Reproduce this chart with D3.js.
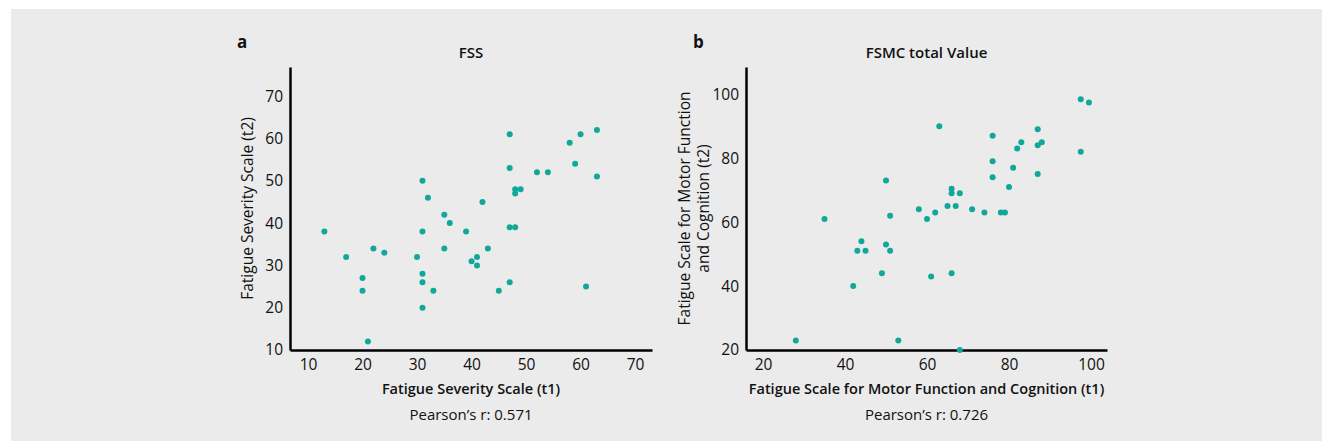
<!DOCTYPE html>
<html lang="en">
<head>
<meta charset="utf-8">
<title>FSS / FSMC t1 vs t2</title>
<script src="https://cdn.jsdelivr.net/npm/d3@7"></script>
<style>
body { margin: 0; background: #fff; }
text { font-family: "Open Sans", sans-serif; fill: #111; }
</style>
</head>
<body>
<script>
// panel a: Fatigue Severity Scale, t1 vs t2
var fssT1 = [13, 17, 20, 20, 21, 22, 24, 30, 31, 31, 31, 31, 31, 32, 33, 35, 35, 36, 39, 40, 41,
             41, 42, 43, 45, 47, 47, 47, 47, 48, 48, 48, 49, 52, 54, 58, 59, 60, 61, 63, 63];
var fssT2 = [38, 32, 27, 24, 12, 34, 33, 32, 50, 38, 28, 26, 20, 46, 24, 42, 34, 40, 38, 31, 32,
             30, 45, 34, 24, 61, 53, 39, 26, 48, 47, 39, 48, 52, 52, 59, 54, 61, 25, 62, 51];
var fssTicks = [10, 20, 30, 40, 50, 60, 70];

// panel b: FSMC total value, t1 vs t2
var fsmcT1 = [28, 35, 42, 43, 44, 45, 49, 50, 50, 51, 51, 53, 58, 60, 61, 62, 63, 65, 66, 66, 66,
              67, 68, 68, 71, 74, 76, 76, 76, 78, 79, 80, 81, 82, 83, 87, 87, 87, 88, 97.5, 97.5, 99.5];
var fsmcT2 = [23, 61, 40, 51, 54, 51, 44, 73, 53, 62, 51, 23, 64, 61, 43, 63, 90, 65, 70.4, 69, 44,
              65, 69, 20, 64, 63, 87, 79, 74, 63, 63, 71, 77, 83, 85, 89, 84, 75, 85, 98.4, 82, 97.4];
var fsmcTicks = [20, 40, 60, 80, 100];

var w = 1322, h = 441;
var dotColor = "#0fa89a";

var svg = d3.select("body").append("svg")
    .attr("width", w)
    .attr("height", h);

svg.append("rect")
    .attr("x", 11).attr("y", 9)
    .attr("width", w - 11).attr("height", h - 9)
    .attr("fill", "#ebebeb");

var panels = [
    {
        letter: "a", title: "FSS",
        xs: fssT1, ys: fssT2, ticks: fssTicks,
        xDomain: [6.7, 73.1], yDomain: [10, 76.9],
        left: 290, right: 652, top: 67, bottom: 350,
        xLabel: "Fatigue Severity Scale (t1)",
        yLabel: ["Fatigue Severity Scale (t2)"],
        pearson: "Pearson\u2019s r: 0.571"
    },
    {
        letter: "b", title: "FSMC total Value",
        xs: fsmcT1, ys: fsmcT2, ticks: fsmcTicks,
        xDomain: [15.85, 103.9], yDomain: [20, 108.5],
        left: 746, right: 1107, top: 67, bottom: 350,
        xLabel: "Fatigue Scale for Motor Function and Cognition (t1)",
        yLabel: ["Fatigue Scale for Motor Function", "and Cognition (t2)"],
        pearson: "Pearson\u2019s r: 0.726"
    }
];

panels.forEach(function(p) {
    var x = d3.scaleLinear().domain(p.xDomain).range([p.left, p.right]);
    var y = d3.scaleLinear().domain(p.yDomain).range([p.bottom, p.top]);
    var g = svg.append("g");
    var cx = (p.left + p.right) / 2;
    var cy = (p.top + p.bottom) / 2;

    // axes, no tick marks, just the line and the labels
    var xAxis = g.append("g")
        .attr("transform", "translate(0," + p.bottom + ")")
        .call(d3.axisBottom(x).tickValues(p.ticks).tickSize(0).tickPadding(9));
    var yAxis = g.append("g")
        .attr("transform", "translate(" + p.left + ",0)")
        .call(d3.axisLeft(y).tickValues(p.ticks).tickSize(0).tickPadding(7));

    [xAxis, yAxis].forEach(function(a) {
        a.select(".domain").attr("stroke", "#000").attr("stroke-width", 2.5);
        a.selectAll("text")
            .attr("font-family", "'Open Sans', sans-serif")
            .attr("font-size", 15.5)
            .attr("fill", "#111");
    });

    // dots
    g.selectAll("circle")
        .data(p.xs.map(function(v, i) { return [v, p.ys[i]]; }))
        .enter()
        .append("circle")
        .attr("cx", function(d) { return x(d[0]); })
        .attr("cy", function(d) { return y(d[1]); })
        .attr("r", 3)
        .attr("fill", dotColor);

    // panel letter and title
    g.append("text")
        .attr("x", p.left - 53)
        .attr("y", 48)
        .attr("font-size", 17)
        .attr("font-weight", 700)
        .text(p.letter);

    g.append("text")
        .attr("x", cx)
        .attr("y", 58)
        .attr("text-anchor", "middle")
        .attr("font-size", 15)
        .attr("font-weight", 600)
        .text(p.title);

    // axis titles
    g.append("text")
        .attr("x", cx)
        .attr("y", 394)
        .attr("text-anchor", "middle")
        .attr("font-size", 14.5)
        .attr("font-weight", 600)
        .text(p.xLabel);

    g.append("text")
        .attr("x", cx)
        .attr("y", 420)
        .attr("text-anchor", "middle")
        .attr("font-size", 15)
        .text(p.pearson);

    var n = p.yLabel.length;
    p.yLabel.forEach(function(line, i) {
        var lx = p.left - 37 - (n - 1 - i) * 19;
        g.append("text")
            .attr("transform", "translate(" + lx + "," + cy + ") rotate(-90)")
            .attr("text-anchor", "middle")
            .attr("font-size", 15.5)
            .text(line);
    });
});
</script>
</body>
</html>
